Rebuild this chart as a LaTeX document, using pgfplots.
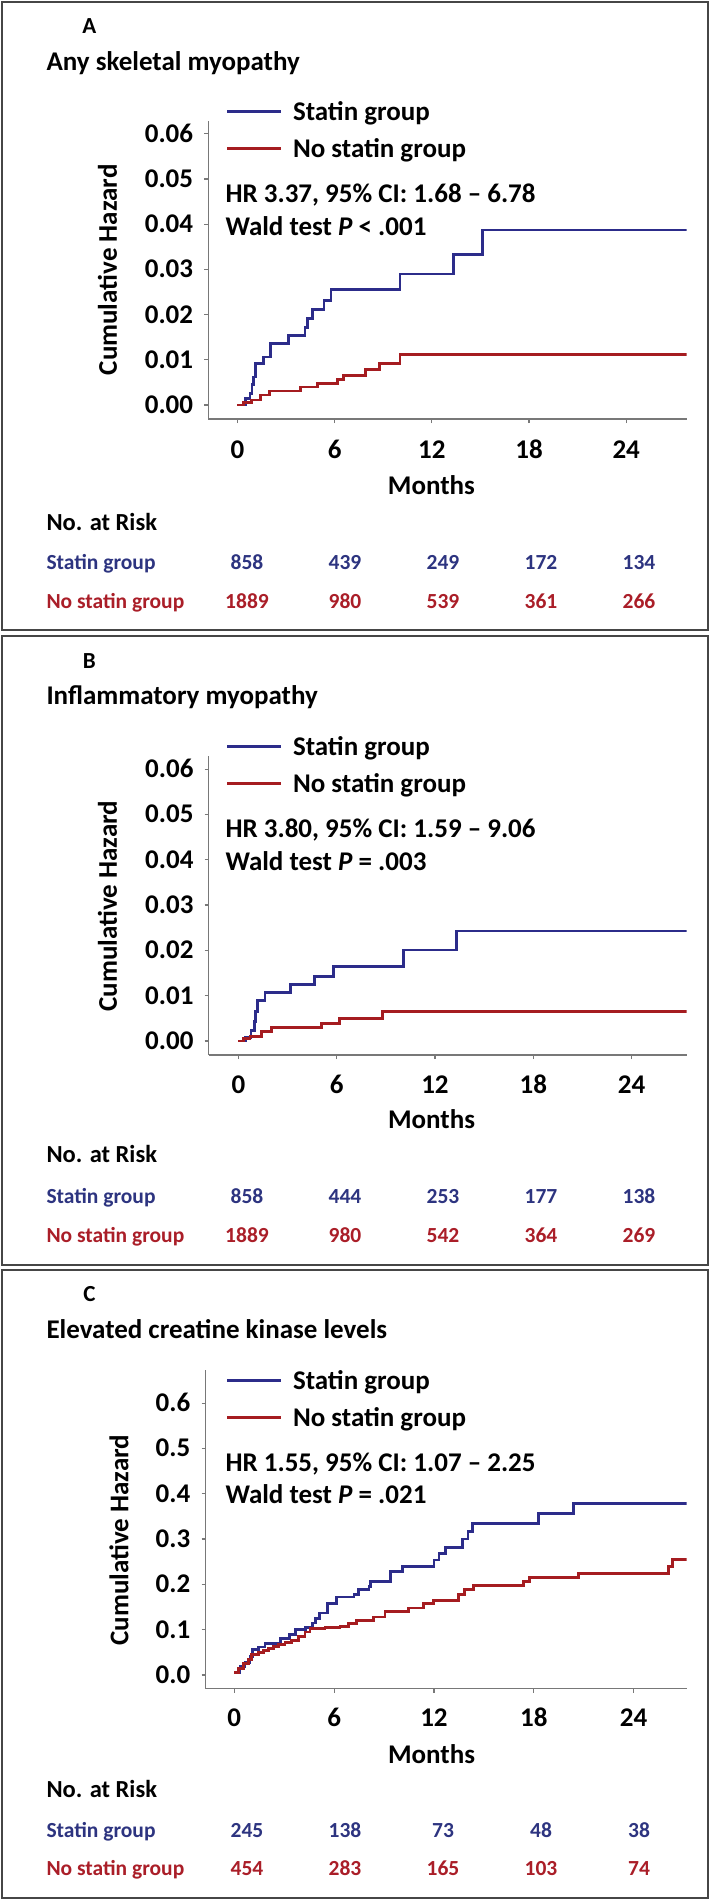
\documentclass[border=0pt]{standalone}
\usepackage{pgfplots}
\pgfplotsset{compat=1.18}
\usepackage{fontspec}
\setmainfont{Carlito}
\definecolor{bluel}{RGB}{44,44,138}
\definecolor{redl}{RGB}{165,28,32}
\definecolor{bluet}{RGB}{45,52,128}
\definecolor{redt}{RGB}{170,30,40}
\definecolor{axgray}{RGB}{120,120,120}
\definecolor{boxgray}{RGB}{70,70,70}
\newcommand\fA{\fontsize{27bp}{32bp}\selectfont\bfseries}
\newcommand\fR{\fontsize{21.5bp}{26bp}\selectfont\bfseries}
\newcommand\fN{\fontsize{24.5bp}{29bp}\selectfont\bfseries}
\newcommand\fL{\fontsize{23bp}{28bp}\selectfont\bfseries}
\pgfplotsset{
  kmaxis/.style={
    scale only axis,
    axis lines=left,
    axis line style={-, draw=axgray, line width=1.5bp},
    tick align=outside,
    major tick length=4bp,
    tick style={draw=axgray, line width=1.2bp},
    xtick={0,6,12,18,24},
    scaled y ticks=false,
    scaled x ticks=false,
    tick label style={font=\fA},
    xticklabel style={anchor=base, inner sep=0pt},
    yticklabel style={anchor=base east, inner sep=0pt, xshift=-11bp, yshift=-8.5bp},
    legend cell align=left,
    legend image code/.code={\draw[##1, line width=3bp] (0bp,3bp) -- (53.5bp,3bp);},
    legend style={draw=none, fill=none, inner sep=0pt, outer sep=0pt,
      row sep=13.7bp, column sep=11bp, font=\fA,
      nodes={inner sep=0pt, text height=18bp, text depth=6bp},
      anchor=north west},
  },
  statin/.style={const plot, draw=bluel, line width=2.8bp},
  nostatin/.style={const plot, draw=redl, line width=2.8bp},
}
\begin{document}
\begin{tikzpicture}
\useasboundingbox (0,0) rectangle (710bp,-1900bp);
\fill[white] (0,0) rectangle (710bp,-1900bp);
% panel boxes
\draw[boxgray, line width=2bp] (2.3bp,-2bp) rectangle (707.8bp,-630bp);
\draw[boxgray, line width=2bp] (2.3bp,-636bp) rectangle (707.8bp,-1265bp);
\draw[boxgray, line width=2bp] (2.3bp,-1270bp) rectangle (707.8bp,-1898bp);

% ===================== Panel A =====================
\node[anchor=base, font=\fL] at (89.4bp,-33bp) {A};
\node[anchor=base west, font=\fA] at (43bp,-70.3bp) {Any skeletal myopathy};
\begin{axis}[kmaxis,
  at={(208.3bp,-419bp)}, anchor=south west,
  width=478.2bp, height=298.3bp,
  xmin=-1.80, xmax=27.72, ymin=-0.0031, ymax=0.0629,
  ytick={0,0.01,0.02,0.03,0.04,0.05,0.06},
  yticklabels={0.00,0.01,0.02,0.03,0.04,0.05,0.06},
  xticklabels={0,6,12,18,24},
  xticklabel style={yshift=-35bp},
  xlabel={Months},
  every axis x label/.style={at={(axis description cs:0.4667,-0.2514)}, anchor=base, font=\fA},
  ylabel={Cumulative Hazard},
  every axis y label/.style={at={(axis description cs:-0.2108,0.5)}, rotate=90, anchor=center, font=\fA},
  legend style={at={(axis description cs:0.036,1.062)}},
]
\addplot[statin] table {
0 0
0.5 0.0014
0.77 0.0025
0.9 0.0045
0.98 0.0062
1.12 0.0091
1.6 0.0106
2.05 0.0136
3.14 0.0154
4.17 0.0172
4.31 0.0191
4.62 0.0212
5.34 0.0232
5.77 0.0255
10.03 0.0290
13.32 0.0333
15.11 0.0387
27.72 0.0387
};
\addlegendentry{Statin group}
\addplot[nostatin] table {
0 0
0.36 0.0005
0.88 0.0011
1.43 0.0022
2.0 0.0031
3.9 0.0040
4.95 0.0047
6.18 0.0057
6.55 0.0066
7.9 0.0078
8.75 0.0092
10.03 0.0112
27.72 0.0112
};
\addlegendentry{No statin group}
\end{axis}
\node[anchor=base west, font=\fA] at (222bp,-202bp) {HR 3.37, 95\% CI: 1.68 – 6.78};
\node[anchor=base west, font=\fA] at (222bp,-235bp) {Wald test \textit{P} < .001};
\node[anchor=base west, font=\fN] at (43bp,-530bp) {No. at Risk};
\node[anchor=base west, font=\fR, text=bluet] at (43bp,-569.5bp) {Statin group};
\node[anchor=base west, font=\fR, text=redt] at (43bp,-608.5bp) {No statin group};
\foreach \x/\v in {247/858,345/439,443/249,541/172,639/134}
  \node[anchor=base, font=\fR, text=bluet] at (\x bp,-569.5bp) {\v};
\foreach \x/\v in {247/1889,345/980,443/539,541/361,639/266}
  \node[anchor=base, font=\fR, text=redt] at (\x bp,-608.5bp) {\v};

% ===================== Panel B =====================
\node[anchor=base, font=\fL] at (89.4bp,-668bp) {B};
\node[anchor=base west, font=\fA] at (43bp,-704bp) {Inflammatory myopathy};
\begin{axis}[kmaxis,
  at={(208.7bp,-1055bp)}, anchor=south west,
  width=477.8bp, height=299bp,
  xmin=-1.81, xmax=27.35, ymin=-0.00309, ymax=0.0629,
  ytick={0,0.01,0.02,0.03,0.04,0.05,0.06},
  yticklabels={0.00,0.01,0.02,0.03,0.04,0.05,0.06},
  xticklabels={0,6,12,18,24},
  xticklabel style={yshift=-34bp},
  xlabel={Months},
  every axis x label/.style={at={(axis description cs:0.4663,-0.2441)}, anchor=base, font=\fA},
  ylabel={Cumulative Hazard},
  every axis y label/.style={at={(axis description cs:-0.2118,0.498)}, rotate=90, anchor=center, font=\fA},
  legend style={at={(axis description cs:0.0352,1.0632)}},
]
\addplot[statin] table {
0 0
0.45 0.0008
0.77 0.0024
0.98 0.0043
1.06 0.0065
1.16 0.0090
1.63 0.0107
3.2 0.0124
4.64 0.0143
5.8 0.0164
10.07 0.0201
13.3 0.0243
27.35 0.0243
};
\addlegendentry{Statin group}
\addplot[nostatin] table {
0 0
0.31 0.0005
0.71 0.0010
1.43 0.0021
2.04 0.0029
5.05 0.0039
6.17 0.0050
8.8 0.0066
27.35 0.0066
};
\addlegendentry{No statin group}
\end{axis}
\node[anchor=base west, font=\fA] at (222bp,-837bp) {HR 3.80, 95\% CI: 1.59 – 9.06};
\node[anchor=base west, font=\fA] at (222bp,-870bp) {Wald test \textit{P} = .003};
\node[anchor=base west, font=\fN] at (43bp,-1162.7bp) {No. at Risk};
\node[anchor=base west, font=\fR, text=bluet] at (43bp,-1203.5bp) {Statin group};
\node[anchor=base west, font=\fR, text=redt] at (43bp,-1242bp) {No statin group};
\foreach \x/\v in {247/858,345/444,443/253,541/177,639/138}
  \node[anchor=base, font=\fR, text=bluet] at (\x bp,-1203.5bp) {\v};
\foreach \x/\v in {247/1889,345/980,443/542,541/364,639/269}
  \node[anchor=base, font=\fR, text=redt] at (\x bp,-1242bp) {\v};

% ===================== Panel C =====================
\node[anchor=base, font=\fL] at (89.4bp,-1301.5bp) {C};
\node[anchor=base west, font=\fA] at (43bp,-1338bp) {Elevated creatine kinase levels};
\begin{axis}[kmaxis,
  at={(205.5bp,-1688.5bp)}, anchor=south west,
  width=481bp, height=318.5bp,
  xmin=-1.73, xmax=27.18, ymin=-0.0298, ymax=0.673,
  ytick={0,0.1,0.2,0.3,0.4,0.5,0.6},
  yticklabels={0.0,0.1,0.2,0.3,0.4,0.5,0.6},
  xticklabels={0,6,12,18,24},
  xticklabel style={yshift=-33.5bp},
  xlabel={Months},
  every axis x label/.style={at={(axis description cs:0.4699,-0.2339)}, anchor=base, font=\fA},
  ylabel={Cumulative Hazard},
  every axis y label/.style={at={(axis description cs:-0.1798,0.466)}, rotate=90, anchor=center, font=\fA},
  legend style={at={(axis description cs:0.0416,0.9962)}},
]
\addplot[statin] table {
0 0.005
0.34 0.018
0.64 0.027
0.94 0.040
1.1 0.056
1.44 0.062
1.85 0.070
2.8 0.080
3.3 0.090
3.7 0.100
4.3 0.105
4.7 0.115
4.9 0.125
5.1 0.137
5.6 0.157
6.15 0.172
7.2 0.177
7.45 0.188
8.1 0.196
8.2 0.207
9.4 0.228
10.1 0.240
12.0 0.254
12.3 0.268
12.7 0.282
13.7 0.300
14.05 0.316
14.3 0.335
18.3 0.357
20.4 0.379
27.18 0.379
};
\addlegendentry{Statin group}
\addplot[nostatin] table {
0 0.005
0.24 0.015
0.54 0.026
0.84 0.035
1.04 0.046
1.44 0.050
1.74 0.054
2.04 0.059
2.34 0.063
2.64 0.068
3.05 0.072
3.45 0.077
3.85 0.085
4.25 0.095
4.55 0.102
5.45 0.104
6.35 0.107
6.85 0.114
7.36 0.121
8.35 0.128
9.06 0.140
10.46 0.148
11.36 0.158
11.96 0.165
13.46 0.177
13.86 0.188
14.36 0.197
17.37 0.206
17.73 0.215
20.67 0.224
26.08 0.239
26.32 0.255
27.18 0.255
};
\addlegendentry{No statin group}
\end{axis}
\node[anchor=base west, font=\fA] at (222bp,-1471bp) {HR 1.55, 95\% CI: 1.07 – 2.25};
\node[anchor=base west, font=\fA] at (222bp,-1503bp) {Wald test \textit{P} = .021};
\node[anchor=base west, font=\fN] at (43bp,-1797.6bp) {No. at Risk};
\node[anchor=base west, font=\fR, text=bluet] at (43bp,-1837.5bp) {Statin group};
\node[anchor=base west, font=\fR, text=redt] at (43bp,-1875.6bp) {No statin group};
\foreach \x/\v in {247/245,345/138,443/73,541/48,639/38}
  \node[anchor=base, font=\fR, text=bluet] at (\x bp,-1837.5bp) {\v};
\foreach \x/\v in {247/454,345/283,443/165,541/103,639/74}
  \node[anchor=base, font=\fR, text=redt] at (\x bp,-1875.6bp) {\v};
\end{tikzpicture}
\end{document}
